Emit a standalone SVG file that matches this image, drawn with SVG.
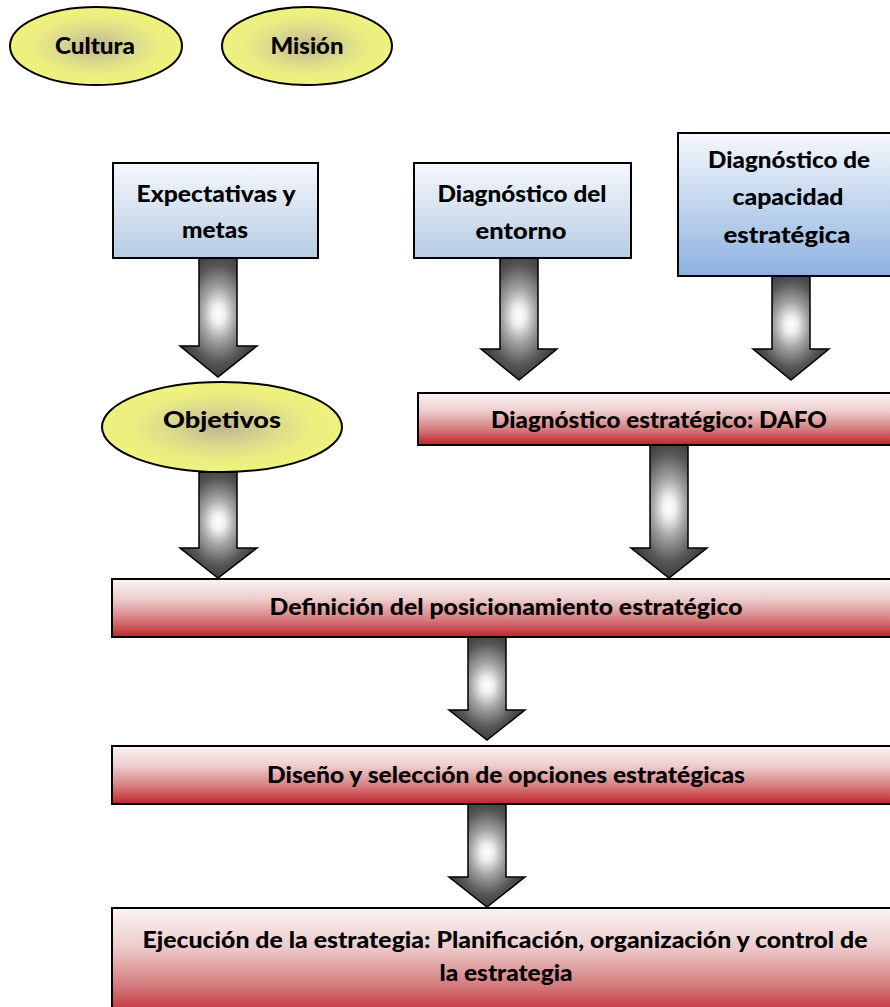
<svg xmlns="http://www.w3.org/2000/svg" width="890" height="1007" viewBox="0 0 890 1007">
<defs>
<radialGradient id="gEll" cx="0.5" cy="0.5" r="0.5">
<stop offset="0" stop-color="#c0b690"/>
<stop offset="0.45" stop-color="#dcdb8c"/>
<stop offset="0.75" stop-color="#ebee80"/>
<stop offset="1" stop-color="#eef27e"/>
</radialGradient>
<linearGradient id="gBlue" x1="0" y1="0" x2="0" y2="1">
<stop offset="0" stop-color="#f6f8fc"/>
<stop offset="1" stop-color="#b6cbe4"/>
</linearGradient>
<linearGradient id="gBlue2" x1="0" y1="0" x2="0" y2="1">
<stop offset="0" stop-color="#f6f8fc"/>
<stop offset="1" stop-color="#8cb2e0"/>
</linearGradient>
<linearGradient id="gRed" x1="0" y1="0" x2="0" y2="1">
<stop offset="0" stop-color="#fcf4f4"/>
<stop offset="0.35" stop-color="#edcccc"/>
<stop offset="0.7" stop-color="#d57c7e"/>
<stop offset="1" stop-color="#c0232a"/>
</linearGradient>
<radialGradient id="gArr" cx="0.5" cy="0.47" r="0.55">
<stop offset="0" stop-color="#ffffff"/>
<stop offset="0.15" stop-color="#eeeeee"/>
<stop offset="0.4" stop-color="#a4a4a4"/>
<stop offset="0.75" stop-color="#555555"/>
<stop offset="1" stop-color="#3a3a3a"/>
</radialGradient>
</defs>
<style>
text{font-family:Lato,"Liberation Sans",sans-serif;font-weight:900;font-size:23px;fill:#000;text-anchor:middle}
.ell{fill:url(#gEll);stroke:#000;stroke-width:2}
.blue{fill:url(#gBlue);stroke:#000;stroke-width:2}
.blue2{fill:url(#gBlue2);stroke:#000;stroke-width:2}
.red{fill:url(#gRed);stroke:#000;stroke-width:2}
.arr{fill:url(#gArr);stroke:#000;stroke-width:1.5}
</style>
<g id="connectors">
<path class="arr" d="M199,258 H237 V346 H257 L218,377 L180,346 H199 Z"/>
<path class="arr" d="M500,258 H538 V349 H557 L519,380 L481,349 H500 Z"/>
<path class="arr" d="M772,276 H810 V349 H829 L791,380 L753,349 H772 Z"/>
<path class="arr" d="M199,472 H237 V548 H257 L218,578 L180,548 H199 Z"/>
<path class="arr" d="M650,445 H688 V548 H707 L669,578 L631,548 H650 Z"/>
<path class="arr" d="M468,637 H506 V710 H525 L487,740 L449,710 H468 Z"/>
<path class="arr" d="M468,804 H506 V877 H525 L487,907 L449,877 H468 Z"/>
</g>
<g id="cultura">
<ellipse class="ell" cx="96" cy="46" rx="86" ry="39"/>
<text x="95" y="54" textLength="80" lengthAdjust="spacingAndGlyphs">Cultura</text>
</g>
<g id="mision">
<ellipse class="ell" cx="307" cy="46" rx="85" ry="39"/>
<text x="307" y="54" textLength="73" lengthAdjust="spacingAndGlyphs">Misión</text>
</g>
<g id="expectativas">
<rect class="blue" x="113" y="163" width="205" height="95"/>
<text x="216" y="202" textLength="159" lengthAdjust="spacingAndGlyphs">Expectativas y</text>
<text x="215" y="238" textLength="66" lengthAdjust="spacingAndGlyphs">metas</text>
</g>
<g id="entorno">
<rect class="blue" x="414" y="163" width="217" height="95"/>
<text x="522" y="202" textLength="169" lengthAdjust="spacingAndGlyphs">Diagnóstico del</text>
<text x="521" y="239" textLength="91" lengthAdjust="spacingAndGlyphs">entorno</text>
</g>
<g id="capacidad">
<rect class="blue2" x="678" y="133" width="222" height="143"/>
<text x="789" y="168" textLength="162" lengthAdjust="spacingAndGlyphs">Diagnóstico de</text>
<text x="788" y="205" textLength="111" lengthAdjust="spacingAndGlyphs">capacidad</text>
<text x="787" y="243" textLength="127" lengthAdjust="spacingAndGlyphs">estratégica</text>
</g>
<g id="objetivos">
<ellipse class="ell" cx="222" cy="427" rx="120" ry="45"/>
<text x="222" y="428" textLength="118" lengthAdjust="spacingAndGlyphs">Objetivos</text>
</g>
<g id="dafo">
<rect class="red" x="418" y="393" width="482" height="52"/>
<text x="659" y="428" textLength="336" lengthAdjust="spacingAndGlyphs">Diagnóstico estratégico: DAFO</text>
</g>
<g id="definicion">
<rect class="red" x="112" y="579" width="788" height="58"/>
<text x="506" y="615" textLength="473" lengthAdjust="spacingAndGlyphs">Definición del posicionamiento estratégico</text>
</g>
<g id="diseno">
<rect class="red" x="112" y="746" width="788" height="58"/>
<text x="506" y="783" textLength="478" lengthAdjust="spacingAndGlyphs">Diseño y selección de opciones estratégicas</text>
</g>
<g id="ejecucion">
<rect class="red" x="112" y="908" width="788" height="110"/>
<text x="505" y="948" textLength="725" lengthAdjust="spacingAndGlyphs">Ejecución de la estrategia: Planificación, organización y control de</text>
<text x="506" y="981" textLength="133" lengthAdjust="spacingAndGlyphs">la estrategia</text>
</g>
</svg>
